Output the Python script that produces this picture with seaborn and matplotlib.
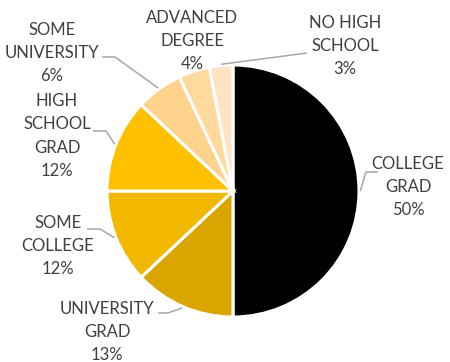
import numpy as np
import matplotlib
matplotlib.use("Agg")
import matplotlib.pyplot as plt
import seaborn as sns

# Education levels and their shares (%)
categories = ["COLLEGE\nGRAD", "UNIVERSITY\nGRAD", "SOME\nCOLLEGE", "HIGH\nSCHOOL\nGRAD",
              "SOME\nUNIVERSITY", "ADVANCED\nDEGREE", "NO HIGH\nSCHOOL"]
shares = [50, 13, 12, 12, 6, 4, 3]
colors = ["#000000", "#DAA500", "#F2B800", "#FFC000", "#FFD38C", "#FFD99E", "#FFE3C2"]

sns.set_style("white")
plt.rcParams["font.family"] = ["Lato", "DejaVu Sans"]

W, H = 450, 362
fig = plt.figure(figsize=(W / 100, H / 100), dpi=100)
ax = fig.add_axes([0, 0, 1, 1])

cx, cy, r = 233, H - 191, 126
ax.pie(shares, colors=colors, startangle=90, counterclock=False,
       center=(cx, cy), radius=r, frame=True,
       wedgeprops=dict(edgecolor="white", linewidth=2.2))
ax.set_xlim(0, W)
ax.set_ylim(0, H)
ax.set_aspect("equal")
ax.axis("off")

# label block centres (x, y measured from the top) and leader elbows/ends
label_pos = [(408, 187), (107, 332), (58, 246), (57, 136), (52, 53), (192, 41), (345, 46)]
leaders = [
    [(366, 172), (378, 172)],
    [(168, 313), (158, 313)],
    [(100, 229), (87, 229)],
    [(106, 131), (93, 131)],
    [(115, 57), (102, 57)],
    None,
    [(307, 53)],
]

text_color = "#404040"
line_color = "#A6A6A6"
cum = np.cumsum([0] + shares)
total = float(sum(shares))
for i, (cat, val) in enumerate(zip(categories, shares)):
    lx, ly = label_pos[i]
    ax.text(lx, H - ly, f"{cat}\n{val}%", ha="center", va="center",
            fontsize=12, color=text_color, linespacing=1.55)
    if leaders[i] is not None:
        mid = (cum[i] + val / 2) / total
        ang = np.deg2rad(90 - 360 * mid)
        sx = cx + r * 1.01 * np.cos(ang)
        sy = cy + r * 1.01 * np.sin(ang)
        pts = [(sx, sy)] + [(px, H - py) for px, py in leaders[i]]
        xs, ys = zip(*pts)
        ax.plot(xs, ys, color=line_color, lw=1.1, solid_capstyle="butt")

fig.savefig("out.png", dpi=100, facecolor="white")
